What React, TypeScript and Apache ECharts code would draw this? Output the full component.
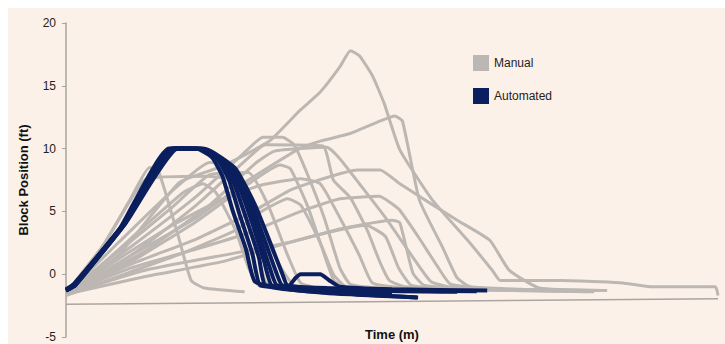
import React, { useEffect, useRef } from "react";
import * as echarts from "echarts";

// Time in minutes (x), block position in ft (y)
const yTicks = [-5, 0, 5, 10, 15, 20];
const baseline: number[][] = [[0, -2.4], [50, -1.95]];

const manual1 = [[0,-1.6],[4,1.5],[8.7,7.3],[12,8.6],[15.6,10.6],[17.9,13.0],[19.5,14.5],[21,16.5],[21.8,17.8],[22.5,17.4],[23.5,15.8],[24.4,13.6],[25.6,9.9],[28.1,5.9],[30.8,2.7],[32.7,0.3],[33.3,-0.5],[38,-0.5],[41,-0.6],[42.7,-0.7],[44.8,-1.0],[49.8,-1.0],[50,-1.7]];
const manual2 = [[0,-1.6],[5,1.5],[10,4.5],[14,7.5],[17.9,10.0],[19.5,10.6],[21.8,11.2],[24.1,12.2],[25.2,12.6],[25.8,12.2],[27.1,5.9],[28.9,2.1],[30,-0.3],[31,-1.0],[35,-1.2],[40,-1.3]];
const manual3 = [[0,-1.5],[2.6,1.9],[4.9,5.9],[6.4,8.5],[7,8.4],[7.6,6.6],[8.7,2.7],[9.6,-0.5],[10.6,-1.1],[13.7,-1.4]];
const manual4 = [[0,-1.5],[3,2.5],[6.2,7.6],[10.8,7.8],[12.5,7.5],[14.5,4.5],[16.5,0.5],[17.5,-0.9],[20,-1.2],[24,-1.3]];
const manual5 = [[0,-1.6],[4,2.5],[8,6.5],[11,8.9],[12,8.8],[13,6.5],[14.5,2.5],[15.3,-0.6],[16.5,-1.1],[20,-1.3]];
const manual6 = [[0,-1.6],[4,1.8],[8,5.2],[11,7.9],[14,8.1],[15.5,5.5],[17,1.5],[18,-0.7],[19.5,-1.1],[25,-1.3]];
const manual7 = [[0,-1.6],[5,2.2],[10,6.2],[13.5,9.5],[15.1,10.9],[16.6,10.9],[17.5,10.3],[18.5,8],[19.8,4.5],[21,0.5],[21.8,-0.8],[24,-1.1],[30,-1.3]];
const manual8 = [[0,-1.7],[5,1.5],[10,5.5],[13.5,8.8],[15.3,10.3],[19.7,10.2],[20.5,7.5],[21.8,6.1],[23.1,3.5],[24.1,0.9],[24.8,-0.5],[26,-1.0],[32,-1.2]];
const manual9 = [[0,-1.6],[6,1.8],[11,5.5],[14.5,8.8],[16,9.8],[20,10.1],[21,9.2],[22.5,7.2],[24.5,4.5],[26.5,1.5],[28,-0.6],[30,-1.1],[38,-1.3]];
const manual10 = [[0,-1.6],[5,1.0],[10,4.2],[14,7.2],[16.4,8.7],[17.2,8.4],[18.5,5.5],[19.6,2.2],[20.6,-0.6],[22,-1.1],[28,-1.3]];
const manual11 = [[0,-1.6],[5,0.8],[10,2.8],[14,4.8],[17.2,6.7],[19.7,7.6],[22.3,8.3],[24.1,8.3],[25.6,7.2],[28,5.6],[30,4.3],[32.5,2.7],[34,0.3],[36.3,-1.1],[41,-1.3]];
const manual12 = [[0,-1.6],[6,0.3],[12,1.5],[17,2.5],[21,3.6],[25,4.3],[25.6,4.1],[26.6,0.1],[27.5,-0.9],[33,-1.2],[41.5,-1.3]];
const manual13 = [[0,-1.6],[6,-0.2],[12,1.0],[16,2.2],[20,3.3],[23,3.9],[24.5,3.0],[25.5,0.5],[26.5,-0.9],[30,-1.2],[40,-1.4]];
const manual14 = [[0,-1.5],[4,1.2],[8,3.8],[12,6.0],[15,7.1],[18,7.6],[19.5,7.2],[21,4.5],[22.5,1.5],[23.5,-0.7],[26,-1.1],[34,-1.3]];
const manual15 = [[0,-1.6],[5,0.5],[10,2.0],[14,3.3],[18,5.0],[21,6.0],[24,6.2],[25.5,5.2],[27,3.0],[28.5,0.6],[29.5,-0.8],[33,-1.2],[40.5,-1.4]];
const manual16 = [[0,-1.6],[3,1.0],[6,3.8],[9,6.5],[10.5,7.2],[11.5,6.5],[13,3.5],[14,0.5],[14.8,-0.9],[17,-1.2],[22,-1.3]];
const manual17 = [[0,-1.7],[5,0.2],[9,1.7],[13,3.5],[15,5.0],[17,6.0],[18,5.5],[19.5,2.5],[20.5,0],[21.5,-1.0],[30,-1.3]];

const auto1 = [[0,-1.3],[0.5,-1.0],[4,3.4],[7.9,10.0],[10.0,10.0],[11.2,9.3],[12.0,7.8],[12.8,5.0],[13.8,2.0],[14.5,-0.6],[17.9,-1.3],[24.1,-1.7],[26.9,-1.85]];
const auto2 = [[0,-1.3],[0.6,-0.9],[4.2,3.6],[8.1,10.0],[10.3,10.0],[11.6,9.2],[12.5,7.5],[13.3,4.8],[14.3,1.6],[14.9,-0.9],[17,-1.0],[17.6,-0.3],[18,0],[19.5,0],[20.2,-0.5],[21,-1.0],[25,-1.2],[32.3,-1.3]];
const auto3 = [[0,-1.3],[0.6,-0.8],[4.3,3.8],[8.2,10.0],[10.5,10.0],[11.9,9.1],[12.9,7.2],[13.8,4.5],[14.8,1.3],[15.3,-0.9],[20,-1.5],[27,-1.85]];
const auto4 = [[0,-1.2],[0.7,-0.7],[4.4,4.0],[8.3,10.0],[10.6,9.9],[12.2,8.9],[13.3,6.9],[14.3,4.0],[15.2,1.0],[15.8,-0.9],[20,-1.1],[26,-1.3],[31.5,-1.35]];
const auto5 = [[0,-1.3],[0.7,-0.8],[4.5,4.1],[8.4,10.0],[10.7,9.9],[12.5,8.7],[13.7,6.4],[14.7,3.5],[15.6,0.6],[16.2,-0.9],[22,-1.5],[25,-1.6]];
const auto6 = [[0,-1.3],[0.7,-0.9],[4.5,4.0],[8.5,10.0],[10.8,9.9],[12.8,8.5],[14.1,5.9],[15.2,2.8],[16.1,0.2],[16.6,-0.9],[21,-1.2],[29,-1.35]];
const auto7 = [[0,-1.3],[0.7,-0.9],[4.6,4.1],[8.6,10.0],[10.9,9.9],[13.0,8.4],[14.5,5.5],[15.7,2.4],[16.6,0.0],[17.0,-0.9],[23,-1.3],[30,-1.4]];

const manualRuns = [manual1, manual2, manual3, manual4, manual5, manual6, manual7, manual8, manual9, manual10, manual11, manual12, manual13, manual14, manual15, manual16, manual17];
const autoRuns = [auto1, auto2, auto3, auto4, auto5, auto6, auto7];

const GREY = "#bcb7b3";
const NAVY = "#0b1f5e";

export default function App() {
  const ref = useRef<HTMLDivElement>(null);
  useEffect(() => {
    if (!ref.current) return;
    const chart = echarts.init(ref.current, undefined, { renderer: "svg" });
    const series: any[] = [];
    series.push({
      type: "line",
      name: "baseline",
      data: baseline,
      showSymbol: false,
      silent: true,
      lineStyle: { color: "#aaa5a1", width: 1.5 },
      z: 1,
    });
    manualRuns.forEach((d) =>
      series.push({
        type: "line",
        name: "Manual",
        data: d,
        showSymbol: false,
        smooth: 0.15,
        color: GREY,
        lineStyle: { color: GREY, width: 3 },
        z: 2,
      })
    );
    autoRuns.forEach((d) =>
      series.push({
        type: "line",
        name: "Automated",
        data: d,
        showSymbol: false,
        smooth: 0.15,
        color: NAVY,
        lineStyle: { color: NAVY, width: 4 },
        z: 3,
      })
    );
    chart.setOption({
      animation: false,
      backgroundColor: "#fcf1e8",
      textStyle: { fontFamily: "Liberation Sans, Arial, sans-serif" },
      grid: { left: 58, right: 7, top: 15, bottom: 7, containLabel: false },
      legend: {
        data: ["Manual", "Automated"],
        orient: "vertical",
        left: 460,
        top: 42,
        icon: "rect",
        itemWidth: 16,
        itemHeight: 16,
        itemGap: 17,
        textStyle: { fontSize: 12, color: "#222" },
        selectedMode: false,
      },
      xAxis: {
        type: "value",
        min: 0,
        max: 50,
        show: false,
      },
      yAxis: {
        type: "value",
        min: yTicks[0],
        max: yTicks[yTicks.length - 1],
        interval: 5,
        name: "Block Position (ft)",
        nameLocation: "middle",
        nameGap: 36,
        nameTextStyle: { fontSize: 13, fontWeight: "bold", color: "#111" },
        axisLine: { show: true, lineStyle: { color: "#a9a4a0", width: 1.5 } },
        axisTick: { show: true, length: 4, lineStyle: { color: "#a9a4a0" } },
        axisLabel: { fontSize: 12, color: "#222", margin: 10 },
        splitLine: { show: false },
      },
      graphic: [
        {
          type: "text",
          left: 357,
          top: 320,
          style: { text: "Time (m)", font: "bold 13px Liberation Sans, Arial, sans-serif", fill: "#111" },
        },
      ],
      series,
    });
    return () => chart.dispose();
  }, []);
  return (
    <div
      ref={ref}
      style={{ position: "absolute", left: 8, top: 8, width: 717, height: 336 }}
    />
  );
}
